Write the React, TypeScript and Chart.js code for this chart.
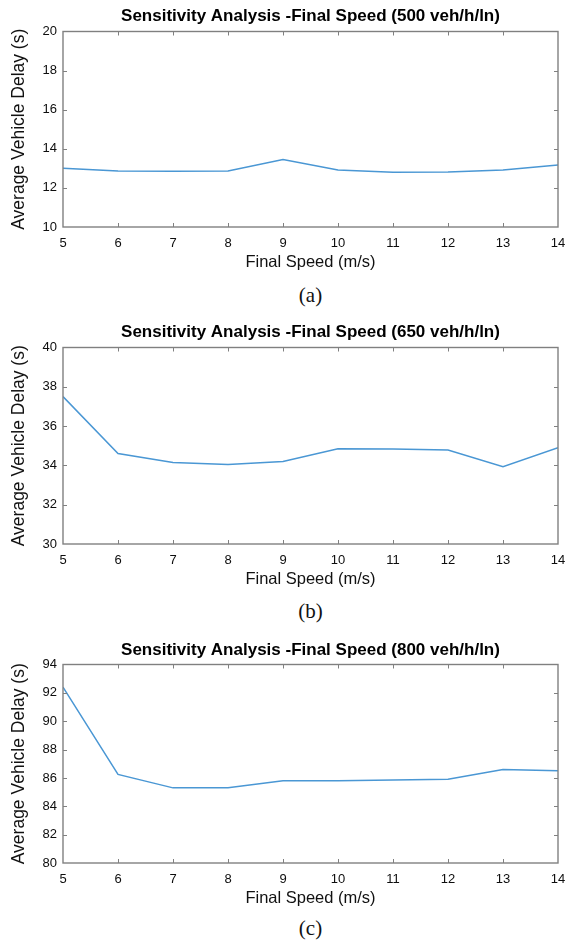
import React, { useEffect, useRef } from "react";
import { Chart, registerables } from "chart.js";

Chart.register(...registerables);

// ---- data ----
const finalSpeeds = [5, 6, 7, 8, 9, 10, 11, 12, 13, 14];
const delay500 = [13.0, 12.86, 12.85, 12.86, 13.45, 12.92, 12.8, 12.81, 12.91, 13.17];
const delay650 = [37.5, 34.6, 34.15, 34.05, 34.2, 34.85, 34.83, 34.78, 33.93, 34.9];
const delay800 = [92.4, 86.25, 85.3, 85.3, 85.8, 85.8, 85.85, 85.9, 86.6, 86.5];
const titles = [
  "Sensitivity Analysis -Final Speed (500 veh/h/ln)",
  "Sensitivity Analysis -Final Speed (650 veh/h/ln)",
  "Sensitivity Analysis -Final Speed (800 veh/h/ln)",
];
const captions = ["(a)", "(b)", "(c)"];
const yRanges = [
  [10, 20],
  [30, 40],
  [80, 94],
];
const xLabel = "Final Speed (m/s)";
const yLabel = "Average Vehicle Delay (s)";

const W = 565;
const PLOT_LEFT = 63;
const PLOT_RIGHT = 558;
const TOP_OFFSET = 31.5;
const X_AXIS_H = 46;
const FONT = "'Liberation Sans', Arial, Helvetica, sans-serif";
const LINE_COLOR = "#4a97d4";
const BOX_COLOR = "#808080";

const boxPlugin = {
  id: "matlabBox",
  afterDraw(chart: any, _args: any, opts: any) {
    const { ctx, chartArea } = chart;
    const { left, right, top, bottom } = chartArea;
    const xs = chart.scales.x;
    const ys = chart.scales.y;
    ctx.save();
    ctx.strokeStyle = BOX_COLOR;
    ctx.lineWidth = 1;
    const tl = 4;
    ctx.beginPath();
    xs.ticks.forEach((t: any) => {
      const px = Math.round(xs.getPixelForValue(t.value)) + 0.5;
      if (px <= left + 1 || px >= right - 1) return;
      ctx.moveTo(px, bottom);
      ctx.lineTo(px, bottom - tl);
      ctx.moveTo(px, top);
      ctx.lineTo(px, top + tl);
    });
    ys.ticks.forEach((t: any) => {
      const py = Math.round(ys.getPixelForValue(t.value)) + 0.5;
      if (py <= top + 1 || py >= bottom - 1) return;
      ctx.moveTo(left, py);
      ctx.lineTo(left + tl, py);
      ctx.moveTo(right, py);
      ctx.lineTo(right - tl, py);
    });
    ctx.stroke();
    ctx.lineWidth = 1.4;
    ctx.strokeRect(left, top, right - left, bottom - top);
    // panel title, centred over the plot box
    if (opts && opts.text) {
      ctx.fillStyle = "#000";
      ctx.font = `bold ${opts.size}px ${FONT}`;
      ctx.textAlign = "center";
      ctx.textBaseline = "middle";
      ctx.fillText(opts.text, (left + right) / 2, opts.y);
    }
    ctx.restore();
  },
};

type PanelProps = {
  title: string;
  caption: string;
  values: number[];
  yRange: number[];
  plotTop: number;
  plotBottom: number;
  titleY: number;
  captionY: number;
};

function Panel({ title, caption, values, yRange, plotTop, plotBottom, titleY, captionY }: PanelProps) {
  const ref = useRef<HTMLCanvasElement>(null);
  const canvasTop = plotTop - TOP_OFFSET;
  const height = Math.round(plotBottom - plotTop + TOP_OFFSET + X_AXIS_H);
  const titleCenter = titleY - canvasTop;

  useEffect(() => {
    if (!ref.current) return;
    const chart = new Chart(ref.current, {
      type: "line",
      data: {
        labels: finalSpeeds,
        datasets: [
          {
            data: finalSpeeds.map((x, i) => ({ x, y: values[i] })),
            borderColor: LINE_COLOR,
            borderWidth: 1.5,
            pointRadius: 0,
            tension: 0,
            fill: false,
          },
        ],
      },
      options: {
        animation: false,
        responsive: false,
        devicePixelRatio: 1,
        layout: { padding: { left: 0, right: W - PLOT_RIGHT, top: TOP_OFFSET, bottom: 0 } },
        plugins: {
          legend: { display: false },
          tooltip: { enabled: false },
          title: { display: false },
          matlabBox: { text: title, size: 17, y: titleCenter },
        },
        scales: {
          x: {
            type: "linear",
            min: 5,
            max: 14,
            grid: { display: false, drawTicks: false },
            border: { display: false },
            ticks: {
              stepSize: 1,
              autoSkip: false,
              maxRotation: 0,
              padding: 8.5,
              color: "#0d0d0d",
              font: { family: FONT, size: 13 },
            },
            title: {
              display: true,
              text: xLabel,
              color: "#111",
              font: { family: FONT, size: 16.5 },
              padding: { top: 0, bottom: 0.5 },
            },
            afterFit: (s: any) => {
              s.height = X_AXIS_H;
              s.paddingLeft = 0;
              s.paddingRight = 0;
            },
          },
          y: {
            type: "linear",
            min: yRange[0],
            max: yRange[1],
            grid: { display: false, drawTicks: false },
            border: { display: false },
            ticks: {
              stepSize: 2,
              padding: 6,
              color: "#0d0d0d",
              font: { family: FONT, size: 13 },
            },
            title: {
              display: true,
              text: yLabel,
              color: "#111",
              font: { family: FONT, size: 17.5 },
              padding: { top: 9, bottom: 0 },
            },
            afterFit: (s: any) => {
              s.width = PLOT_LEFT;
              s.paddingTop = 0;
              s.paddingBottom = 0;
            },
          },
        },
      },
      plugins: [boxPlugin],
    } as any);
    return () => chart.destroy();
  }, [title, values, yRange, titleCenter]);

  return (
    <>
      <canvas
        ref={ref}
        width={W}
        height={height}
        style={{ position: "absolute", left: 0, top: canvasTop, width: W, height }}
      />
      <div
        style={{
          position: "absolute",
          left: 0,
          width: PLOT_LEFT + PLOT_RIGHT,
          top: captionY - 12,
          height: 24,
          lineHeight: "24px",
          textAlign: "center",
          fontFamily: "'Liberation Serif', 'Times New Roman', serif",
          fontSize: 21,
          color: "#111",
        }}
      >
        {caption}
      </div>
    </>
  );
}

const plotTops = [31.5, 347.5, 664.5];
const plotBottoms = [227.3, 544, 862.7];
const titleYs = [16.7, 332.7, 650.7];
const captionYs = [295, 611, 928];
const seriesList = [delay500, delay650, delay800];

export default function App() {
  return (
    <div
      style={{
        position: "absolute",
        left: 0,
        top: 0,
        width: W,
        height: 942,
        background: "#fff",
        overflow: "hidden",
      }}
    >
      {seriesList.map((vals, i) => (
        <Panel
          key={i}
          title={titles[i]}
          caption={captions[i]}
          values={vals}
          yRange={yRanges[i]}
          plotTop={plotTops[i]}
          plotBottom={plotBottoms[i]}
          titleY={titleYs[i]}
          captionY={captionYs[i]}
        />
      ))}
    </div>
  );
}
